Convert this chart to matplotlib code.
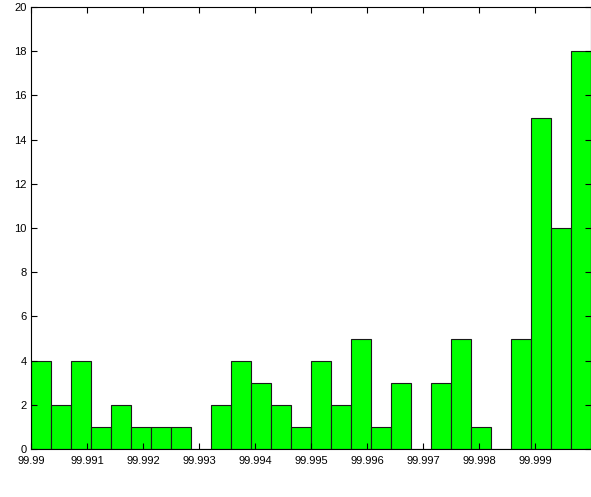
import numpy as np
import matplotlib
matplotlib.use("Agg")
import matplotlib.pyplot as plt

counts = [4, 2, 4, 1, 2, 1, 1, 1, 0, 2, 4, 3, 2, 1, 4, 2, 5, 1, 3, 0, 3, 5, 1, 0, 5, 15, 10, 18]
x_min, x_max = 99.99, 100.0
xtick_vals = [99.99, 99.991, 99.992, 99.993, 99.994, 99.995, 99.996, 99.997, 99.998, 99.999]
xtick_labels = ["99.99", "99.991", "99.992", "99.993", "99.994", "99.995", "99.996", "99.997", "99.998", "99.999"]
ytick_vals = list(range(0, 21, 2))

plt.rcParams['font.family'] = ['Liberation Sans', 'DejaVu Sans']

fig = plt.figure(figsize=(5.91, 4.97), dpi=100)
ax = fig.add_axes([31/591, 48/497, 560/591, 442/497])

edges = np.linspace(x_min, x_max, len(counts) + 1)
ax.bar(edges[:-1], counts, width=np.diff(edges), align='edge',
       color='#00ff00', edgecolor='#1a1a1a', linewidth=0.8)

ax.set_xlim(x_min, x_max)
ax.set_ylim(0, 20)
ax.set_xticks(xtick_vals)
ax.set_xticklabels(xtick_labels)
ax.set_yticks(ytick_vals)
ax.tick_params(direction='in', length=4, width=0.8, labelsize=8,
               top=True, right=True)
ax.tick_params(axis='x', pad=5)
ax.tick_params(axis='y', pad=3)
for s in ax.spines.values():
    s.set_linewidth(0.8)

fig.savefig("out.png", dpi=100)
